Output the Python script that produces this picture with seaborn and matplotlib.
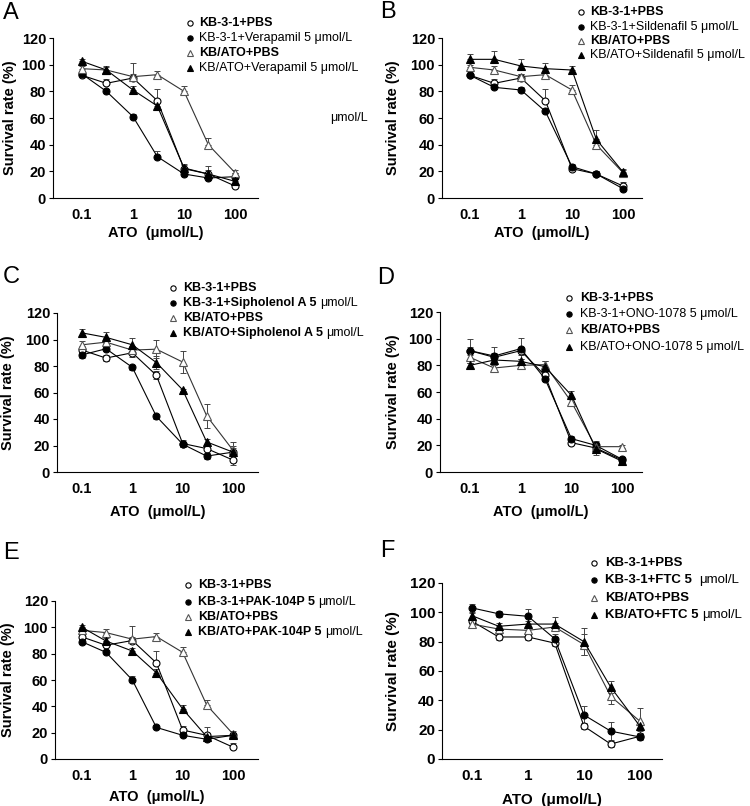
import matplotlib
matplotlib.use("Agg")
import matplotlib.pyplot as plt
import numpy as np
import seaborn as sns
from matplotlib.lines import Line2D
from matplotlib.ticker import NullLocator

# ---------------- data ----------------
conc = [0.1, 0.3, 1, 3, 10, 30, 100]
xtick_vals = [0.1, 1, 10, 100]
xtick_labels = ["0.1", "1", "10", "100"]
ytick_vals = [0, 20, 40, 60, 80, 100, 120]
ytick_labels = ["0", "20", "40", "60", "80", "100", "120"]

# Panel A (Verapamil)
A_kb_pbs = [92, 86, 90, 73, 22, 18, 9]
A_kb_drug = [93, 80, 61, 31, 18, 15, 16]
A_ato_pbs = [97, 96, 91, 92.5, 80, 40, 19]
A_ato_drug = [102.5, 96, 81, 69, 22.5, 18, 12.5]
A_err = [[2, 3, 11, 9, 3, 6, 2], [2, 2, 2, 4, 2, 3, 3],
         [2, 3, 2, 3, 4, 5, 2], [2, 2, 3, 3, 3, 3, 2]]

# Panel B (Sildenafil)
B_kb_pbs = [92, 86, 90, 73, 22, 18, 9]
B_kb_drug = [92, 83, 81, 65, 23.5, 18, 7]
B_ato_pbs = [98, 96, 91, 92.5, 81, 40, 19]
B_ato_drug = [104, 104, 99, 97, 96, 44, 19.5]
B_err = [[2, 3, 3, 9, 3, 2, 3], [2, 2, 2, 2, 2, 2, 2],
         [2, 3, 2, 3, 4, 3, 2], [4, 6, 5, 4, 3, 7, 2]]

# Panel C (Sipholenol A)
C_kb_pbs = [92, 86, 90, 73, 21.5, 17.7, 9]
C_kb_drug = [88.4, 93, 79, 42, 21, 12, 15]
C_ato_pbs = [96, 98, 92, 92.7, 83, 42.4, 16.4]
C_ato_drug = [105, 101.6, 96, 82.6, 62, 22.7, 15]
C_err = [[3, 2, 3, 3, 3, 3, 4], [2, 2, 2, 2, 2, 2, 5],
         [3, 3, 3, 7, 8, 9, 6], [3, 4, 5, 5, 1, 2, 3]]

# Panel D (ONO-1078)
D_kb_pbs = [91, 86, 91, 72.5, 22, 18, 9]
D_kb_drug = [91, 87, 92.5, 70, 25, 20, 9.5]
D_ato_pbs = [86, 78, 80, 80.5, 52.5, 19, 19]
D_ato_drug = [80, 84, 83, 79, 57.5, 17.5, 8]
D_err = [[3, 3, 3, 3, 2, 3, 2], [9, 7, 8, 2, 2, 3, 2],
         [4, 2, 2, 3, 3, 2, 1], [2, 2, 2, 4, 3, 5, 2]]

# Panel E (PAK-104P)
E_kb_pbs = [92.7, 86.4, 90, 73, 22, 18, 9]
E_kb_drug = [89, 81, 60, 24, 18, 15, 18]
E_ato_pbs = [97.7, 96, 91, 93, 81, 41, 19]
E_ato_drug = [100, 89.6, 82, 65.5, 38, 17, 18]
E_err = [[2, 3, 11, 9, 3, 6, 3], [2, 2, 3, 2, 2, 3, 2],
         [2, 3, 2, 3, 4, 4, 2], [2, 2, 2, 3, 3, 2, 2]]

# Panel F (FTC)
F_kb_pbs = [93.9, 83.2, 83.2, 79, 22.3, 10.2, 15.5]
F_kb_drug = [103, 99, 97.3, 82, 30, 19, 15]
F_ato_pbs = [92, 88.6, 87.7, 90, 78, 42.7, 25.7]
F_ato_drug = [97.7, 90.5, 92, 92, 80, 49, 22.3]
F_err = [[2, 2, 2, 2, 2, 2, 2], [3, 2, 5, 3, 6, 6, 2],
         [2, 2, 2, 3, 7, 5, 9], [2, 2, 2, 5, 9, 4, 3]]

# legend labels: list of (text, bold) segments
A_labels = [[("KB-3-1+PBS", True)], [("KB-3-1+Verapamil 5 μmol/L", False)],
            [("KB/ATO+PBS", True)], [("KB/ATO+Verapamil 5 μmol/L", False)]]
B_labels = [[("KB-3-1+PBS", True)], [("KB-3-1+Sildenafil 5 μmol/L", False)],
            [("KB/ATO+PBS", True)], [("KB/ATO+Sildenafil 5 μmol/L", False)]]
C_labels = [[("KB-3-1+PBS", True)], [("KB-3-1+Sipholenol A 5", True), ("μmol/L", False)],
            [("KB/ATO+PBS", True)], [("KB/ATO+Sipholenol A 5", True), ("μmol/L", False)]]
D_labels = [[("KB-3-1+PBS", True)], [("KB-3-1+ONO-1078 5 μmol/L", False)],
            [("KB/ATO+PBS", True)], [("KB/ATO+ONO-1078 5 μmol/L", False)]]
E_labels = [[("KB-3-1+PBS", True)], [("KB-3-1+PAK-104P 5", True), ("μmol/L", False)],
            [("KB/ATO+PBS", True)], [("KB/ATO+PAK-104P 5", True), ("μmol/L", False)]]
F_labels = [[("KB-3-1+PBS", True)], [("KB-3-1+FTC 5", True), ("  μmol/L", False)],
            [("KB/ATO+PBS", True)], [("KB/ATO+FTC 5", True), ("μmol/L", False)]]

# ---------------- layout (pixels) ----------------
W, H = 750, 806
panels = [
    dict(letter="A", series=[A_kb_pbs, A_kb_drug, A_ato_pbs, A_ato_drug], err=A_err, labels=A_labels,
         box=(53, 38, 258, 198), xl=(-1.569, 2.451), sym=False, letter_xy=(3, 13),
         ylab_x=10, xlab_off=35, leg=(190, 199, [23, 38, 53, 68]), fs=10.5, lfs=9),
    dict(letter="B", series=[B_kb_pbs, B_kb_drug, B_ato_pbs, B_ato_drug], err=B_err, labels=B_labels,
         box=(442, 38, 642, 198), xl=(-1.549, 2.373), sym=False, letter_xy=(380, 12),
         ylab_x=393, xlab_off=35, leg=(581, 590, [12, 27, 41, 55]), fs=10.5, lfs=9),
    dict(letter="C", series=[C_kb_pbs, C_kb_drug, C_ato_pbs, C_ato_drug], err=C_err, labels=C_labels,
         box=(57, 313, 258, 472), xl=(-1.497, 2.497), sym=True, letter_xy=(3, 277),
         ylab_x=8, xlab_off=40, leg=(173, 183, [288, 303, 318, 333]), fs=10.5, lfs=9),
    dict(letter="D", series=[D_kb_pbs, D_kb_drug, D_ato_pbs, D_ato_drug], err=D_err, labels=D_labels,
         box=(440, 312, 642, 472), xl=(-1.59, 2.39), sym=True, letter_xy=(377, 278),
         ylab_x=393, xlab_off=40, leg=(569, 580, [298, 314, 330, 347]), fs=10.5, lfs=9),
    dict(letter="E", series=[E_kb_pbs, E_kb_drug, E_ato_pbs, E_ato_drug], err=E_err, labels=E_labels,
         box=(55, 601, 258, 759), xl=(-1.537, 2.497), sym=False, letter_xy=(3, 553),
         ylab_x=8, xlab_off=38, leg=(188, 198, [585, 602, 617, 632]), fs=10.5, lfs=9),
    dict(letter="F", series=[F_kb_pbs, F_kb_drug, F_ato_pbs, F_ato_drug], err=F_err, labels=F_labels,
         box=(442, 583, 662, 759), xl=(-1.536, 2.393), sym=True, letter_xy=(380, 551),
         ylab_x=393, xlab_off=41, leg=(594, 605, [563, 580, 598, 615]), fs=11, lfs=9.5),
]

styles = [
    dict(marker="o", mfc="white", mec="black", ms=5.0, color="black"),
    dict(marker="o", mfc="black", mec="black", ms=5.0, color="black"),
    dict(marker="^", mfc="white", mec="#555555", ms=5.4, color="#333333"),
    dict(marker="^", mfc="black", mec="black", ms=5.4, color="black"),
]

sns.set_theme(style="ticks")
plt.rcParams["font.family"] = ["Liberation Sans", "DejaVu Sans"]
plt.rcParams["axes.linewidth"] = 0.8

fig = plt.figure(figsize=(W / 100, H / 100), dpi=100)
fig.patch.set_facecolor("white")


def fx(px):
    return px / W


def fy(py):
    return 1 - py / H


for p in panels:
    l, t, r, b = p["box"]
    ax = fig.add_axes([fx(l), fy(b), (r - l) / W, (b - t) / H])
    ax.set_facecolor("white")
    for k, vals in enumerate(p["series"]):
        st = styles[k]
        e = np.array(p["err"][k], dtype=float)
        yerr = e if p["sym"] else [np.zeros_like(e), e]
        ax.errorbar(conc, vals, yerr=yerr, fmt="none", ecolor="#444444",
                    elinewidth=0.7, capsize=2.2, capthick=0.7, zorder=1)
        sns.lineplot(x=conc, y=vals, ax=ax, color=st["color"], linewidth=0.8,
                     marker=st["marker"], markersize=st["ms"],
                     markerfacecolor=st["mfc"], markeredgecolor=st["mec"],
                     markeredgewidth=0.8, legend=False, zorder=2 + k)
    ax.set_xscale("log")
    ax.set_xlim(10 ** p["xl"][0], 10 ** p["xl"][1])
    ax.set_ylim(0, 120)
    ax.xaxis.set_minor_locator(NullLocator())
    ax.set_xticks(xtick_vals)
    ax.set_xticklabels(xtick_labels, fontweight="bold", fontsize=p["fs"])
    ax.set_yticks(ytick_vals)
    ax.set_yticklabels(ytick_labels, fontweight="bold", fontsize=p["fs"])
    ax.tick_params(axis="y", length=3, width=0.8, pad=2, color="black", labelcolor="black")
    ax.tick_params(axis="x", length=0, pad=7, labelcolor="black")
    sns.despine(ax=ax)
    for s in ["left", "bottom"]:
        ax.spines[s].set_color("black")
        ax.spines[s].set_linewidth(0.8)
    ax.set_ylabel("Survival rate (%)", fontsize=p["fs"], fontweight="bold", va="center", color="black")
    ax.yaxis.set_label_coords((p["ylab_x"] - l) / (r - l), 0.5)
    ax.set_xlabel("ATO  (μmol/L)", fontsize=p["fs"], fontweight="bold", va="center", color="black")
    ax.xaxis.set_label_coords(0.5, -p["xlab_off"] / (b - t))

    # panel letter
    fig.text(fx(p["letter_xy"][0]), fy(p["letter_xy"][1]), p["letter"], fontsize=17,
             ha="left", va="center", color="black")

    # legend (manual, for mixed font weights)
    mx, tx, rows = p["leg"]
    for k, (ry, segs) in enumerate(zip(rows, p["labels"])):
        st = styles[k]
        fig.add_artist(Line2D([fx(mx)], [fy(ry)], transform=fig.transFigure, linestyle="none",
                              marker=st["marker"], markersize=3.8, markerfacecolor=st["mfc"],
                              markeredgecolor=st["mec"], markeredgewidth=0.8))
        txt, bold = segs[0]
        tobj = fig.text(fx(tx), fy(ry), txt, fontsize=p["lfs"],
                        fontweight="bold" if bold else "normal", ha="left", va="center", color="black")
        for txt2, bold2 in segs[1:]:
            off = 5 if txt2.startswith("  ") else 2.5
            tobj = ax.annotate(txt2.strip(), xy=(1, 0.5), xycoords=tobj, xytext=(off, 0),
                               textcoords="offset points", fontsize=p["lfs"],
                               fontweight="bold" if bold2 else "normal", ha="left", va="center",
                               color="black", annotation_clip=False)

# stray unit text in panel A
fig.text(fx(330), fy(118), "μmol/L", fontsize=9, ha="left", va="center", color="black")

fig.savefig("out.png", dpi=100, facecolor="white")
